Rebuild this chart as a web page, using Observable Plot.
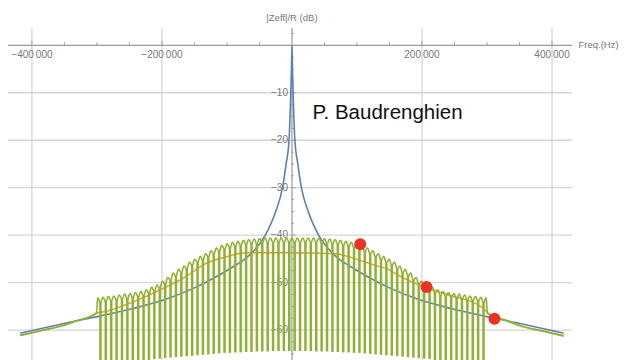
<!DOCTYPE html>
<html>
<head>
<meta charset="utf-8">
<script src="https://cdn.jsdelivr.net/npm/d3@7"></script>
<script src="https://cdn.jsdelivr.net/npm/@observablehq/plot@0.6"></script>
<style>
  html, body { margin: 0; padding: 0; background: #fff; }
  #chart { width: 626px; height: 360px; overflow: hidden; }
</style>
</head>
<body>
<div id="chart"></div>
<script>
// Cavity impedance |Zeff|/R (dB) versus frequency offset (Hz)

// Open-loop cavity response (blue)
const cavityHz = [-417000, -344000, -294000, -243000, -192000, -150000, -128000, -90000, -67000, -41000,
  -25000, -14500, -9000, -4500, -1800, -800, 0, 800, 1800, 4500, 9000, 14500, 25000,
  41000, 67000, 90000, 128000, 150000, 192000, 243000, 294000, 344000, 417000];
const cavityDb = [-60.6, -58.4, -57.0, -55.4, -53.4, -51.1, -49.6, -46.6, -44.4, -40.0,
  -35.0, -30.0, -25.0, -20.0, -10.0, -5.0, 0.0, -5.0, -10.0, -20.0, -25.0, -30.0, -35.0,
  -40.0, -44.4, -46.6, -49.6, -51.1, -53.4, -55.4, -57.0, -58.4, -60.6];

// Averaged closed-loop response (orange)
const averageHz = [-300500, -284300, -243400, -194600, -163800, -132800, -102300, -71500, 0,
  66900, 97700, 128500, 151500, 159200, 197700, 243800, 290000, 300500];
const averageDb = [-56.4, -56.0, -54.0, -51.0, -48.8, -46.0, -44.6, -43.7, -43.7,
  -43.9, -45.0, -46.4, -47.4, -48.1, -50.6, -52.7, -55.0, -56.2];

// Closed-loop response outside the comb band (green)
const tailLeftHz = [-417000, -382000, -351500, -330000, -311500, -300500];
const tailLeftDb = [-61.1, -60.0, -59.0, -58.0, -57.2, -56.4];
const tailRightHz = [300500, 311500, 330000, 351500, 382000, 417000];
const tailRightDb = [-56.4, -57.2, -58.0, -59.1, -60.1, -61.2];

// Comb filter: maxima between the revolution-harmonic notches
const combPeakHz = [-298800, -290500, -282200, -273900, -265600, -257300, -249000, -240700, -232400, -224100,
  -215800, -207500, -199200, -190900, -182600, -174300, -166000, -157700, -149400, -141100,
  -132800, -124500, -116200, -107900, -99600, -91300, -83000, -74700, -66400, -58100,
  -49800, -41500, -33200, -24900, -16600, -8300, 0,
  8300, 16600, 24900, 33200, 41500, 49800, 58100, 66400, 74700, 83000,
  91300, 99600, 107900, 116200, 124500, 132800, 141100, 149400, 157700, 166000,
  174300, 182600, 190900, 199200, 207500, 215800, 224100, 232400, 240700, 249000,
  257300, 265600, 273900, 282200, 290500, 298800];
const combPeakDb = [-53.2, -53.1, -52.9, -52.8, -52.6, -52.4, -52.3, -52.1, -51.9, -51.5,
  -51.0, -50.5, -49.7, -48.9, -48.0, -47.2, -46.5, -45.7, -45.1, -44.5,
  -43.9, -43.3, -42.7, -42.2, -41.8, -41.5, -41.3, -41.1, -40.9, -40.8,
  -40.7, -40.6, -40.6, -40.6, -40.6, -40.6, -40.6,
  -40.6, -40.6, -40.6, -40.6, -40.6, -40.7, -40.8, -40.9, -41.1, -41.3,
  -41.5, -41.8, -42.2, -42.7, -43.3, -43.9, -44.5, -45.1, -45.7, -46.5,
  -47.2, -48.0, -48.9, -49.7, -50.5, -51.0, -51.5, -51.9, -52.1, -52.3,
  -52.4, -52.6, -52.8, -52.9, -53.1, -53.2];

// Comb notches: where each notch leaves the top envelope, and its floor
const combNotchHz = [-294650, -286350, -278050, -269750, -261450, -253150, -244850, -236550, -228250, -219950,
  -211650, -203350, -195050, -186750, -178450, -170150, -161850, -153550, -145250, -136950,
  -128650, -120350, -112050, -103750, -95450, -87150, -78850, -70550, -62250, -53950,
  -45650, -37350, -29050, -20750, -12450, -4150,
  4150, 12450, 20750, 29050, 37350, 45650, 53950, 62250, 70550, 78850,
  87150, 95450, 103750, 112050, 120350, 128650, 136950, 145250, 153550, 161850,
  170150, 178450, 186750, 195050, 203350, 211650, 219950, 228250, 236550, 244850,
  253150, 261450, 269750, 278050, 286350, 294650];
const combNotchTopDb = [-54.2, -54.0, -53.9, -53.7, -53.5, -53.4, -53.2, -53.0, -52.7, -52.3,
  -51.8, -51.1, -50.3, -49.5, -48.6, -47.9, -47.1, -46.4, -45.8, -45.2,
  -44.6, -44.0, -43.5, -43.0, -42.7, -42.4, -42.2, -42.0, -41.9, -41.8,
  -41.7, -41.6, -41.6, -41.6, -41.6, -41.6,
  -41.6, -41.6, -41.6, -41.6, -41.6, -41.7, -41.8, -41.9, -42.0, -42.2,
  -42.4, -42.7, -43.0, -43.5, -44.0, -44.6, -45.2, -45.8, -46.4, -47.1,
  -47.9, -48.6, -49.5, -50.3, -51.1, -51.8, -52.3, -52.7, -53.0, -53.2,
  -53.4, -53.5, -53.7, -53.9, -54.0, -54.2];
const combNotchBottomDb = [-67.5, -67.4, -67.3, -67.1, -67.0, -66.9, -66.8, -66.6, -66.5, -66.4,
  -66.2, -66.1, -66.0, -65.9, -65.8, -65.7, -65.6, -65.5, -65.4, -65.3,
  -65.2, -65.1, -65.0, -64.9, -64.9, -64.8, -64.8, -64.7, -64.7, -64.6,
  -64.6, -64.6, -64.5, -64.5, -64.5, -64.5,
  -64.5, -64.5, -64.5, -64.5, -64.6, -64.6, -64.6, -64.7, -64.7, -64.8,
  -64.8, -64.9, -64.9, -65.0, -65.1, -65.2, -65.3, -65.4, -65.5, -65.6,
  -65.7, -65.8, -65.9, -66.0, -66.1, -66.2, -66.4, -66.5, -66.6, -66.8,
  -66.9, -67.0, -67.1, -67.3, -67.4, -67.5];

// Marked operating points (red)
const markerHz = [105000, 207000, 311500];
const markerDb = [-41.9, -50.9, -57.6];

// Axes
const xMajorTicks = [-400000, -200000, 200000, 400000];
const xMinorTicks = [-350000, -300000, -250000, -150000, -100000, -50000, 50000, 100000, 150000, 250000, 300000, 350000];
const yMajorTicks = [-10, -20, -30, -40, -50, -60];
const yMinorTicks = [2.5, -2.5, -5, -7.5, -12.5, -15, -17.5, -22.5, -25, -27.5, -32.5, -35, -37.5,
  -42.5, -45, -47.5, -52.5, -55, -57.5, -62.5, -65];
const yTitle = "|Zeff|/R (dB)";
const xTitle = "Freq.(Hz)";
const author = "P. Baudrenghien";

const BLUE = "#5e81b5", ORANGE = "#e19c24", GREEN = "#8fb032", RED = "#ea3323";
const GRID = "#d6d6d6", AXIS = "#9a9a9a", LABEL = "#777";

const zip = (xs, ys) => xs.map((hz, i) => ({hz, db: ys[i]}));
const cavity = zip(cavityHz, cavityDb);
const average = zip(averageHz, averageDb);
const tailLeft = zip(tailLeftHz, tailLeftDb);
const tailRight = zip(tailRightHz, tailRightDb);
const notches = combNotchHz.map((hz, i) => ({hz, top: combNotchTopDb[i], bottom: combNotchBottomDb[i]}));
const markers = zip(markerHz, markerDb);

// Top edge of the comb: peaks alternating with notch shoulders, joined to the tails
const combTop = [tailLeft[tailLeft.length - 1]];
combPeakHz.forEach((hz, i) => {
  combTop.push({hz, db: combPeakDb[i]});
  if (i < notches.length) combTop.push({hz: notches[i].hz, db: notches[i].top});
});
combTop.push(tailRight[0]);

const fmt = (d) => (d < 0 ? "\u2212" : "") + d3.format(",")(Math.abs(d)).replace(/,/g, "\u2009");

const chart = Plot.plot({
  width: 626,
  height: 360,
  marginLeft: 8,
  marginRight: 54,
  marginTop: 28,
  marginBottom: 0,
  x: {domain: [-436000, 431500], axis: null},
  y: {domain: [-66.4, 3.54], axis: null},
  style: {fontFamily: "'Liberation Sans', Arial, sans-serif", background: "#fff"},
  marks: [
    // grid
    Plot.ruleY(yMajorTicks, {stroke: GRID, strokeWidth: 1.3}),
    Plot.ruleX(xMajorTicks, {stroke: GRID, strokeWidth: 1.3}),
    // axes through the origin
    Plot.ruleY([0], {stroke: AXIS, strokeWidth: 1.3}),
    Plot.ruleX([0], {stroke: AXIS, strokeWidth: 1.2}),
    Plot.ruleX(xMajorTicks, {y1: 0, y2: 0, insetTop: -4, stroke: AXIS, strokeWidth: 1}),
    Plot.ruleX(xMinorTicks, {y1: 0, y2: 0, insetTop: -2.5, stroke: AXIS, strokeWidth: 1}),
    Plot.ruleY(yMajorTicks, {x1: 0, x2: 0, insetRight: -4, stroke: AXIS, strokeWidth: 1}),
    Plot.ruleY(yMinorTicks, {x1: 0, x2: 0, insetRight: -2.5, stroke: AXIS, strokeWidth: 1}),
    Plot.text(xMajorTicks, {x: (d) => d, y: 0, text: fmt, dy: 9, fill: LABEL, fontSize: 10}),
    Plot.text(yMajorTicks, {x: 0, y: (d) => d, text: fmt, textAnchor: "end", dx: -4, fill: LABEL, fontSize: 10}),
    Plot.text([yTitle], {x: 0, text: (d) => d, frameAnchor: "top", dy: -14, fill: LABEL, fontSize: 9.5}),
    Plot.text([xTitle], {y: 0, text: (d) => d, frameAnchor: "right", textAnchor: "start", dx: 6, fill: LABEL, fontSize: 9.5}),
    // curves
    Plot.line(cavity, {x: "hz", y: "db", curve: "monotone-x", stroke: BLUE, strokeWidth: 1.6}),
    Plot.line(average, {x: "hz", y: "db", curve: "monotone-x", stroke: ORANGE, strokeWidth: 1.4}),
    Plot.line(tailLeft, {x: "hz", y: "db", curve: "monotone-x", stroke: GREEN, strokeWidth: 2}),
    Plot.line(tailRight, {x: "hz", y: "db", curve: "monotone-x", stroke: GREEN, strokeWidth: 2}),
    Plot.ruleX(notches, {x: "hz", y1: "bottom", y2: "top", stroke: GREEN, strokeWidth: 2.5}),
    Plot.line(combTop, {x: "hz", y: "db", curve: "bump-x", stroke: GREEN, strokeWidth: 1.6}),
    Plot.dot(markers, {x: "hz", y: "db", r: 6, fill: RED, stroke: "none"}),
    // author
    Plot.text([author], {text: (d) => d, frameAnchor: "top-left", dx: 304, dy: 76, textAnchor: "start",
      fontSize: 20.5, fill: "#111"})
  ]
});
document.getElementById("chart").appendChild(chart);
</script>
</body>
</html>
